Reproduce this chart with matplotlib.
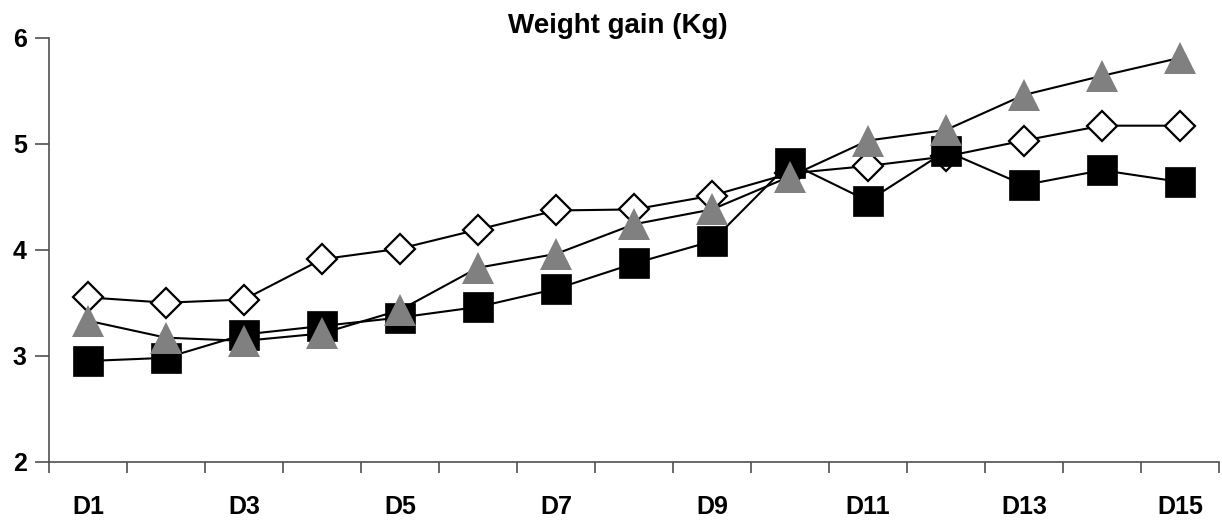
import numpy as np
import matplotlib.pyplot as plt

days = ["D" + str(i) for i in range(1, 16)]
diamond_vals = [3.55, 3.50, 3.53, 3.91, 4.01, 4.19, 4.37, 4.38, 4.51, 4.72, 4.79, 4.88, 5.03, 5.17, 5.17]
square_vals = [2.95, 2.98, 3.20, 3.28, 3.36, 3.46, 3.63, 3.87, 4.08, 4.82, 4.46, 4.93, 4.61, 4.75, 4.64]
triangle_vals = [3.33, 3.17, 3.14, 3.21, 3.43, 3.83, 3.96, 4.24, 4.38, 4.69, 5.03, 5.13, 5.46, 5.64, 5.81]
y_ticks = [2, 3, 4, 5, 6]

plt.rcParams['font.family'] = ['Liberation Sans', 'DejaVu Sans']

fig = plt.figure(figsize=(12.22, 5.2), dpi=100)
ax = fig.add_axes([49 / 1222, 58.3 / 520, 1170 / 1222, 424 / 520])

x = np.arange(len(days))

ax.plot(x, diamond_vals, color='black', linewidth=1.5,
        marker='D', markersize=15, markerfacecolor='white',
        markeredgecolor='black', markeredgewidth=1.6, zorder=3)
ax.plot(x, square_vals, color='black', linewidth=1.5,
        marker='s', markersize=21.5, markerfacecolor='black',
        markeredgecolor='black', markeredgewidth=0.5, zorder=4)
ax.plot(x, triangle_vals, color='black', linewidth=1.5,
        marker='^', markersize=23.5, markerfacecolor='#808080',
        markeredgewidth=0, zorder=5)

ax.set_xlim(-0.5, len(days) - 0.5)
ax.set_ylim(2, 6)

# category boundaries get the tick marks, odd days get the labels
ax.set_xticks(np.arange(-0.5, len(days), 1.0), minor=True)
ax.set_xticks(x[::2])
ax.set_xticklabels(days[::2], fontsize=18, fontweight='bold')
ax.tick_params(axis='x', which='major', length=0, pad=24)
ax.tick_params(axis='x', which='minor', length=8, width=1.2, color='#505050', direction='out')

ax.set_yticks(y_ticks)
ax.set_yticklabels([str(v) for v in y_ticks], fontsize=18, fontweight='bold')
ax.tick_params(axis='y', length=10, width=1.2, color='#505050', pad=6)

for side in ['top', 'right']:
    ax.spines[side].set_visible(False)
for side in ['left', 'bottom']:
    ax.spines[side].set_color('#505050')
    ax.spines[side].set_linewidth(1.2)

fig.text(617.5 / 1222, 1 - 33.3 / 520, "Weight gain (Kg)",
         ha='center', va='baseline', fontsize=20, fontweight='bold')

plt.savefig("out.png", dpi=100)
plt.close()
